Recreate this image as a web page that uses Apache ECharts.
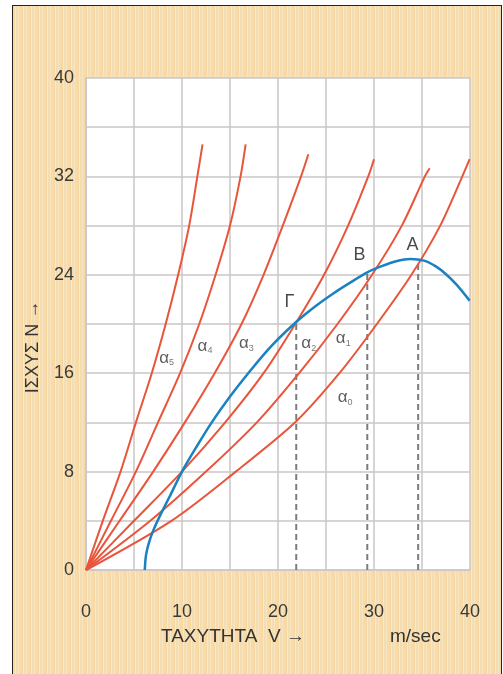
<!DOCTYPE html>
<html>
<head>
<meta charset="utf-8">
<script src="https://cdn.jsdelivr.net/npm/echarts@6/dist/echarts.min.js"></script>
<style>
  html, body { margin: 0; padding: 0; background: #ffffff; }
  #wrap { position: relative; width: 503px; height: 674px; overflow: hidden; background: #ffffff; }
  #frame {
    position: absolute; left: 12px; top: 5px; width: 490px; height: 690px;
    box-sizing: border-box; border: 1.5px solid #222;
    background-color: #f8dcab;
    background-image: repeating-linear-gradient(90deg,
      #f9d9a3 0px, #f9d9a3 2px, #fbe8c3 2px, #fbe8c3 3px,
      #f6dcae 3px, #f6dcae 5px, #f3e6c4 5px, #f3e6c4 6px,
      #fadaa6 6px, #fadaa6 8px);
  }
  #chart { position: absolute; left: 0; top: 0; width: 503px; height: 674px; }
</style>
</head>
<body>
<div id="wrap"><div id="frame"></div><div id="chart"></div></div>
<script>
// ---- data (V in m/sec, N power) ----
const xTickLabels = [0, 10, 20, 30, 40];
const yTickLabels = [0, 8, 16, 24, 32, 40];

const alpha5 = [[0,0],[1.75,4],[3.6,8],[5.2,12],[6.85,16],[8.3,20],[9.6,24],[10.75,28],[11.6,32],[12.14,34.6]];
const alpha4 = [[0,0],[2.6,4],[5.2,8],[7.5,12],[9.8,16],[11.8,20],[13.5,24],[15.0,28],[16.1,32],[16.63,34.6]];
const alpha3 = [[0,0],[3.5,4],[7.0,8],[10.3,12],[13.4,16],[16.2,20],[18.5,24],[20.5,28],[22.4,32],[23.16,33.8]];
const alpha2 = [[0,0],[5.0,4],[10.0,8],[14.5,12],[18.5,16],[21.8,20],[24.8,24],[27.3,28],[29.4,32],[30.0,33.4]];
const alpha1 = [[0,0],[6.7,4],[12.5,8],[17.8,12],[22.2,16],[26.2,20],[29.8,24],[32.9,28],[35.3,32],[35.8,32.66]];
const alpha0 = [[0,0],[8.9,4],[15.6,8],[21.85,12.05],[26.4,16],[30.3,20],[33.9,24],[36.9,28],[39.2,32],[39.96,33.4]];

const enginePower = [[6.12,0],[6.25,1.2],[6.55,2.2],[7.0,3.2],[7.7,4.4],[8.7,5.95],[10,8],[11.5,10.0],[13.1,12],[15,14.1],[16.9,16],[19.3,18.2],[21.95,20.2],[24,21.5],[25.8,22.5],[27.6,23.4],[29.3,24.2],[30.8,24.7],[32.3,25.1],[33.8,25.28],[35.2,25.15],[36.4,24.7],[37.5,24.05],[38.6,23.2],[39.96,21.9]];

const dropGamma = [[21.9,0],[21.9,20.2]];
const dropB = [[29.3,0],[29.3,24.2]];
const dropA = [[34.6,0],[34.6,25.2]];

const curveNames = ['α5','α4','α3','α2','α1','α0'];
const curveLabelSubs = ['5','4','3','2','1','0'];
const curveLabelAt = [[8.4,17.2],[12.4,18.2],[16.7,18.4],[23.2,18.4],[26.8,18.8],[27.0,14.0]];
const pointNames = ['Γ','B','A'];
const pointLabelAt = [[21.2,21.8],[28.5,25.6],[34.0,26.4]];

// ---- chart ----
const chart = echarts.init(document.getElementById('chart'), null, {renderer: 'canvas'});
const FONT = '"Liberation Sans", Arial, sans-serif';
const redCurves = [alpha5, alpha4, alpha3, alpha2, alpha1, alpha0];
const RED = '#e8553a';
const BLUE = '#1b82c2';
const GRID = '#ccc6c6';

const series = [];
[dropGamma, dropB, dropA].forEach(function (d) {
  series.push({
    type: 'line', data: d, symbol: 'none', silent: true, z: 2,
    lineStyle: {color: '#7d7d7d', width: 2, type: [6, 4]}
  });
});
redCurves.forEach(function (d, i) {
  series.push({
    name: curveNames[i], type: 'line', data: d, symbol: 'none', smooth: 0.3, z: 3,
    lineStyle: {color: RED, width: 2}
  });
});
series.push({
  name: 'engine', type: 'line', data: enginePower, symbol: 'none', smooth: 0.3, z: 4,
  lineStyle: {color: BLUE, width: 2.5}
});
series.push({
  type: 'scatter', symbolSize: 0, z: 5, silent: true,
  data: curveLabelAt.map(function (p, i) { return {value: p, sub: curveLabelSubs[i]}; }),
  label: {
    show: true, position: 'inside',
    formatter: function (p) { return '{a|α}{s|' + p.data.sub + '}'; },
    rich: {
      a: {fontFamily: FONT, fontSize: 17, color: '#333'},
      s: {fontFamily: FONT, fontSize: 9, color: '#555', padding: [9, 0, 0, 0]}
    }
  }
});
series.push({
  type: 'scatter', symbolSize: 0, z: 5, silent: true,
  data: pointLabelAt.map(function (p, i) { return {value: p, name: pointNames[i]}; }),
  label: {
    show: true, position: 'inside', formatter: '{b}',
    fontFamily: FONT, fontSize: 18, color: '#1a1a1a'
  }
});

chart.setOption({
  animation: false,
  backgroundColor: 'transparent',
  grid: {
    left: 86, right: 33, top: 78, bottom: 104,
    show: true, backgroundColor: '#ffffff', borderWidth: 0,
    containLabel: false, outerBoundsMode: 'none'
  },
  xAxis: {
    type: 'value', min: 0, max: 40, interval: 5,
    axisLine: {show: true, lineStyle: {color: GRID, width: 1.5}},
    axisTick: {show: false},
    splitLine: {show: true, lineStyle: {color: GRID, width: 1.5}},
    axisLabel: {
      margin: 33, fontFamily: FONT, fontSize: 18, color: '#3a3a3a',
      formatter: function (v) { return xTickLabels.indexOf(v) >= 0 ? String(v) : ''; }
    }
  },
  yAxis: {
    type: 'value', min: 0, max: 40, interval: 4,
    axisLine: {show: true, lineStyle: {color: GRID, width: 1.5}},
    axisTick: {show: false},
    splitLine: {show: true, lineStyle: {color: GRID, width: 1.5}},
    axisLabel: {
      margin: 12, fontFamily: FONT, fontSize: 18, color: '#3a3a3a',
      formatter: function (v) { return yTickLabels.indexOf(v) >= 0 ? String(v) : ''; }
    }
  },
  graphic: [
    {type: 'text', left: 161, top: 627, silent: true,
     style: {text: 'ΤΑΧΥΤΗΤΑ  V →', fontFamily: FONT, fontSize: 19, fill: '#333'}},
    {type: 'text', left: 390, top: 627, silent: true,
     style: {text: 'm/sec', fontFamily: FONT, fontSize: 19, fill: '#333'}},
    {type: 'text', x: 33, y: 347, rotation: Math.PI / 2, silent: true,
     style: {text: 'ΙΣΧΥΣ N →', fontFamily: FONT, fontSize: 18, fill: '#333',
             align: 'center', verticalAlign: 'middle'}}
  ],
  series: series
});
</script>
</body>
</html>
